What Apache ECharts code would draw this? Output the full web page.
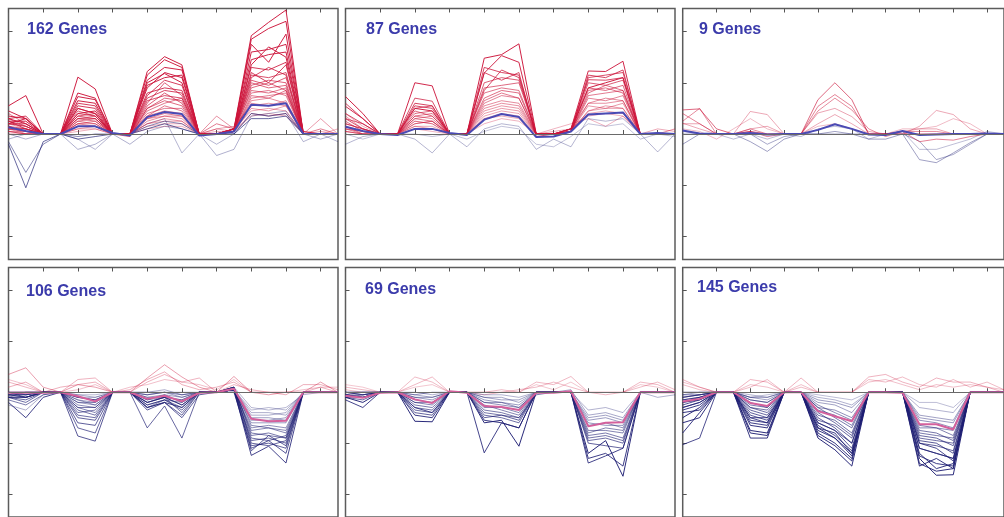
<!DOCTYPE html>
<html>
<head>
<meta charset="utf-8">
<script src="https://cdn.jsdelivr.net/npm/echarts@6/dist/echarts.min.js"></script>
<style>
html, body { margin: 0; padding: 0; background: #fff; }
#main { width: 1004px; height: 517px; }
</style>
</head>
<body>
<div id="main"></div>
<script>
// x: 20 time points, y: log ratio
const timePoints = [0, 1, 2, 3, 4, 5, 6, 7, 8, 9, 10, 11, 12, 13, 14, 15, 16, 17, 18, 19];
const yTicks = [-2, -1, 0, 1, 2];
const panelTitles = ['162 Genes', '87 Genes', '9 Genes', '106 Genes', '69 Genes', '145 Genes'];

// panel 1 - 162 genes
const p1Mean = [0.13, 0.06, 0, 0, 0.15, 0.15, 0.02, -0.03, 0.33, 0.43, 0.39, -0.03, 0, 0.05, 0.57, 0.55, 0.6, 0, 0, 0];
const p1Up = [
  [0.3, 0.2, 0, 0, 0.5, 0.4, 0, 0, 0.9, 1.2, 1.1, 0, 0, 0.1, 1.92, 2.18, 2.42, 0, 0, 0],
  [0.2, 0.3, 0, 0, 0.4, 0.45, 0, 0, 1.22, 1.51, 1.35, 0, 0, 0.05, 1.85, 2.06, 2.2, 0, 0, 0],
  [0.55, 0.75, 0, 0, 1.11, 0.88, 0, 0, 1.15, 1.45, 1.3, 0, 0, 0.05, 1.6, 1.65, 1.75, 0.05, 0, 0],
  [0.35, 0.3, 0, 0, 0.73, 0.67, 0, 0, 1.0, 1.18, 1.0, 0, 0, 0.1, 1.75, 1.4, 1.95, 0, 0, 0],
  [0.45, 0.3, 0, 0, 0.65, 0.6, 0, 0, 1.05, 1.3, 1.25, 0, 0, 0.1, 1.45, 1.55, 1.6, 0, 0, 0],
  [0.25, 0.25, 0, 0, 0.8, 0.7, 0, 0, 0.95, 1.1, 1.15, 0, 0, 0.05, 1.35, 1.7, 1.5, 0, 0, 0],
  [0.2, 0.15, 0, 0, 0.6, 0.55, 0, 0, 0.75, 1.05, 0.95, 0, 0, 0.05, 1.2, 1.0, 1.35, 0, 0, 0],
  [0.3, 0.35, 0, 0, 0.55, 0.5, 0, 0, 0.8, 0.9, 0.85, 0, 0, 0.05, 1.3, 1.25, 1.4, 0, 0, 0],
  [0.25, 0.1, 0, 0, 0.5, 0.4, 0, 0, 0.7, 0.85, 0.8, 0, 0, 0.05, 1.1, 1.3, 1.15, 0, 0, 0],
  [0.2, 0.2, 0, 0, 0.4, 0.35, 0, 0, 0.65, 0.75, 0.7, 0, 0, 0.1, 1.15, 1.1, 1.2, 0, 0, 0],
  [0.1, 0.05, 0, 0, 0.35, 0.3, 0, 0, 0.6, 1.0, 0.75, 0, 0, 0.05, 0.95, 1.05, 1.0, 0, 0, 0],
  [0.15, 0.1, 0, 0, 0.35, 0.4, 0, 0, 0.55, 0.8, 0.6, 0, 0, 0.05, 1.05, 0.95, 1.1, 0, 0, 0],
  [0.15, 0.05, 0, 0, 0.45, 0.35, 0, -0.05, 0.5, 0.7, 0.65, 0, 0, 0.1, 1.0, 0.9, 0.95, 0, 0, 0],
  [0.25, 0.15, 0, 0, 0.3, 0.3, 0, 0, 0.5, 0.65, 0.55, 0, 0, 0.1, 0.9, 1.0, 0.85, 0, 0, 0],
  [0.05, 0, 0, 0, 0.3, 0.25, 0, 0, 0.45, 0.6, 0.7, 0, 0, 0.05, 0.85, 0.8, 0.9, 0, 0, 0],
  [0.4, 0.2, 0, 0, 0.3, 0.35, 0, 0, 0.35, 0.55, 0.45, 0, 0.2, 0.1, 0.8, 0.85, 0.75, 0, 0, 0],
  [0.1, 0.1, 0, 0, 0.25, 0.3, 0, 0, 0.4, 0.5, 0.5, 0, 0, 0.05, 0.75, 0.7, 0.85, 0, 0, 0],
  [0.1, 0.1, 0, 0, 0.25, 0.2, 0, 0, 0.3, 0.4, 0.35, 0, 0, 0.05, 0.7, 0.75, 0.8, 0, 0.1, 0],
  [0.3, 0.15, 0, 0, 0.2, 0.25, 0, 0, 0.35, 0.45, 0.4, 0, 0, 0.05, 0.65, 0.7, 0.6, 0, 0, 0],
  [0.05, 0, 0, 0, 0.2, 0.2, 0, 0, 0.25, 0.35, 0.3, 0, 0.35, 0.1, 0.6, 0.55, 0.65, 0, 0, 0],
  [0.05, 0.05, 0, 0, 0.2, 0.15, 0, 0, 0.3, 0.35, 0.35, 0, 0.1, 0.15, 0.55, 0.6, 0.55, 0, 0, 0],
  [0, 0, 0, 0, 0.15, 0.15, 0, 0, 0.2, 0.3, 0.25, 0, 0, 0.05, 0.5, 0.45, 0.55, 0, 0.3, 0],
  [0.2, 0.1, 0, 0, 0.1, 0.15, 0, 0, 0.2, 0.25, 0.25, 0, 0, 0.1, 0.45, 0.5, 0.45, 0, 0.05, 0],
  [0.15, 0, 0, 0, 0.1, 0.1, 0, 0, 0.15, 0.2, 0.2, 0, 0.1, 0.05, 0.4, 0.35, 0.4, 0, 0, 0.1],
  [0.1, 0, 0, 0, 0.05, 0.1, 0, 0, 0.1, 0.15, 0.15, 0, 0.05, 0.05, 0.35, 0.4, 0.35, 0, 0, 0]
];
const p1Down = [
  [-0.2, -1.05, -0.15, 0, -0.1, -0.05, 0, 0, 0.1, 0.2, 0.1, 0, 0, 0, 0.3, 0.3, 0.35, 0, 0, 0],
  [-0.15, -0.75, -0.2, 0, -0.05, 0, 0, 0, 0.15, 0.25, 0.2, 0, 0, 0, 0.4, 0.35, 0.4, 0, 0, 0],
  [-0.1, 0, 0, 0, -0.1, -0.3, 0, 0, 0.2, 0.3, -0.37, 0, -0.2, 0, 0.4, 0.35, 0.4, -0.15, 0, -0.15],
  [0, -0.1, 0, 0, -0.3, -0.2, 0, -0.2, 0.05, 0.15, 0.1, 0, -0.42, -0.3, 0.35, 0.4, 0.45, 0, -0.1, 0]
];

// panel 2 - 87 genes
const p2Mean = [0.14, 0.06, 0, -0.02, 0.1, 0.1, 0.02, -0.02, 0.28, 0.39, 0.33, -0.06, -0.05, 0.05, 0.38, 0.4, 0.42, 0, 0.02, 0];
const p2Up = [
  [0.73, 0.4, 0, 0, 0.5, 0.45, 0, 0, 1.48, 1.55, 1.76, 0, 0, 0.05, 0.9, 1.0, 1.1, 0, 0, 0],
  [0.54, 0.3, 0, 0, 1.0, 0.94, 0, 0, 1.19, 1.53, 1.4, 0, 0, 0.1, 1.23, 1.22, 1.42, 0, 0, 0],
  [0.6, 0.3, 0, 0, 0.6, 0.55, 0, 0, 1.3, 1.2, 1.15, 0, 0, 0.05, 1.15, 1.1, 1.25, 0, 0, 0],
  [0.3, 0.1, 0, 0, 0.7, 0.64, 0, 0, 1.2, 1.05, 1.2, -0.05, 0, 0.05, 1.1, 1.15, 1.2, 0, 0, 0],
  [0.4, 0.2, 0, 0, 0.55, 0.5, 0, 0, 0.85, 1.25, 1.1, 0, 0, 0.1, 1.06, 1.05, 1.1, 0, 0, 0],
  [0.3, 0.2, 0, 0, 0.5, 0.55, 0, 0, 1.0, 1.1, 1.05, 0, 0, 0.05, 1.0, 0.95, 1.05, 0, 0, 0],
  [0.2, 0.1, 0, 0, 0.4, 0.45, 0, 0, 0.9, 0.95, 1.0, 0, 0, 0.1, 0.9, 0.85, 0.95, 0, 0, 0],
  [0.2, 0.1, 0, 0, 0.35, 0.4, 0, 0, 0.8, 0.9, 0.85, 0, 0, 0.1, 0.85, 0.9, 0.8, 0, 0, 0],
  [0.25, 0.05, 0, 0, 0.45, 0.35, 0, 0, 0.7, 0.85, 0.8, 0, 0, 0.05, 0.8, 0.95, 0.85, 0, 0, 0],
  [0.15, 0.05, 0, 0, 0.3, 0.25, 0, 0, 0.65, 0.8, 0.7, 0, 0, 0.05, 0.75, 0.8, 0.85, 0, 0, 0],
  [0.15, 0, 0, 0, 0.35, 0.3, 0, 0, 0.6, 0.75, 0.7, 0, 0, 0.05, 0.7, 0.65, 0.75, 0, 0, 0],
  [0.1, 0, 0, 0, 0.3, 0.35, 0, 0, 0.55, 0.65, 0.6, 0, 0, 0.1, 0.6, 0.7, 0.65, 0, 0, 0.1],
  [0.1, 0.05, 0, 0, 0.2, 0.25, 0, 0, 0.5, 0.6, 0.55, 0, 0, 0.05, 0.6, 0.6, 0.65, 0, 0, 0],
  [0.05, 0, 0, 0, 0.25, 0.2, 0, 0, 0.45, 0.55, 0.5, 0, 0, 0.05, 0.55, 0.5, 0.6, 0, 0, 0],
  [0.35, 0.1, 0, 0, 0.2, 0.25, 0, 0, 0.4, 0.5, 0.45, 0, 0, 0.05, 0.45, 0.55, 0.5, 0, 0, 0],
  [0.05, 0, 0, 0, 0.15, 0.1, 0, 0, 0.35, 0.45, 0.4, 0, 0, 0.05, 0.45, 0.5, 0.5, 0, 0, 0],
  [0.1, 0.05, 0, 0, 0.15, 0.15, 0, 0, 0.3, 0.4, 0.35, 0, 0.05, 0.1, 0.4, 0.45, 0.4, 0, 0.1, 0.05],
  [0.4, 0.15, 0, 0, 0.25, 0.2, 0, 0, 0.3, 0.35, 0.3, 0, 0, 0.1, 0.35, 0.4, 0.35, 0, 0, 0],
  [0.05, 0, 0, 0, 0.1, 0.05, 0, 0, 0.2, 0.3, 0.25, 0, 0.1, 0.2, 0.3, 0.15, 0.35, 0, 0, 0]
];
const p2Down = [
  [-0.2, -0.05, 0, 0, -0.1, -0.37, 0, -0.25, 0.1, 0.2, 0.15, -0.3, -0.1, -0.25, 0.3, 0.25, 0.3, 0, -0.35, 0],
  [0, -0.1, 0, 0, 0, -0.05, 0, -0.1, 0.05, 0.15, 0.1, -0.2, -0.25, -0.05, 0.2, 0.15, 0.2, -0.1, 0, -0.05]
];

// panel 3 - 9 genes
const p3Mean = [0.07, 0.01, 0, 0, 0.02, -0.01, 0, 0, 0.08, 0.19, 0.1, -0.01, -0.02, 0.06, -0.02, -0.01, 0, 0, 0.01, 0];
const p3Up = [
  [0.47, 0.49, 0.1, 0, 0.05, 0, 0, 0, 0.67, 1.0, 0.67, 0, 0, 0, 0, 0, 0, 0, 0, 0],
  [0.4, 0.2, 0, 0, 0.05, -0.05, 0, 0, 0.54, 0.77, 0.54, 0, 0, 0.05, -0.15, -0.1, -0.12, -0.05, 0, 0],
  [0.25, 0.5, 0, 0, 0.1, 0, 0, 0, 0.45, 0.7, 0.47, 0.1, -0.05, 0.05, 0.05, 0.05, 0, 0, 0, 0],
  [0.2, 0.2, 0, 0, 0.1, 0.15, 0, 0, 0.41, 0.5, 0.34, 0.05, 0, 0.05, 0.1, 0.1, 0, 0, 0, 0],
  [0.21, 0.1, 0, 0, 0.44, 0.38, 0, 0, 0.2, 0.38, 0.2, 0, 0, 0, 0.15, 0.46, 0.38, 0.1, 0, 0],
  [0.1, 0.05, -0.1, 0.1, 0.3, 0.1, 0, 0, 0.15, 0.2, 0.1, 0, 0, 0.1, 0.1, 0.15, 0.3, 0.2, 0, 0]
];
const p3Down = [
  [-0.2, 0, 0, 0, -0.15, -0.34, -0.1, 0, 0, 0.05, 0, -0.1, -0.1, 0, -0.5, -0.56, -0.37, -0.17, 0, 0],
  [0, 0, 0, 0, 0, -0.2, -0.05, 0, 0, 0, 0, 0, 0, 0, -0.14, -0.5, -0.4, -0.2, 0, 0],
  [0.05, 0, 0, -0.1, 0, -0.1, 0, -0.05, 0.1, 0.15, 0.1, -0.1, 0, 0.05, -0.3, -0.3, -0.2, -0.1, 0.05, 0]
];

// panel 4 - 106 genes
const p4Mean = [-0.01, -0.01, -0.01, 0, -0.08, -0.18, 0, 0, -0.13, -0.07, -0.18, -0.01, 0, 0.07, -0.52, -0.57, -0.56, 0, 0, 0];
const p4Up = [
  [0.35, 0.48, 0.1, 0, 0.15, 0.1, 0, 0, 0.28, 0.54, 0.3, 0.1, 0, 0.31, 0, -0.05, 0, 0, 0.2, 0],
  [0.2, 0.1, 0, 0, 0.25, 0.28, 0, 0, 0.2, 0.35, 0.2, 0.28, 0, 0.15, 0.05, 0, 0, 0, 0.1, 0],
  [0.1, 0.2, 0, 0.1, 0.15, 0.2, 0, 0.05, 0.25, 0.4, 0.15, 0.05, 0.1, 0.2, 0, 0, -0.05, 0.15, 0.15, 0.05],
  [0.25, 0.15, 0, 0, 0.05, 0.15, 0, 0.1, 0.15, 0.25, 0.2, 0.15, 0.05, 0.25, 0, 0, 0, 0.05, 0.1, 0.1]
];
const p4Down = [
  [-0.2, -0.5, -0.1, 0, -0.1, -0.15, 0, 0, -0.3, -0.2, -0.3, 0, 0, 0.05, -1.24, -1.06, -1.39, 0, 0, 0],
  [-0.1, -0.1, 0, 0, -0.86, -0.96, 0, 0, -0.2, -0.1, -0.25, 0, 0, 0, -1.1, -0.95, -1.2, 0, 0, 0],
  [-0.05, -0.05, 0, 0, -0.7, -0.8, 0, 0, -0.7, -0.27, -0.9, 0, 0, 0.1, -1.0, -1.05, -0.95, 0, 0, 0],
  [0, -0.1, 0, 0, -0.6, -0.65, 0, 0, -0.35, -0.2, -0.5, -0.05, 0, 0.05, -1.15, -0.85, -1.05, 0, 0, 0],
  [-0.1, -0.15, 0, 0, -0.5, -0.55, 0, 0, -0.3, -0.2, -0.45, 0, 0, 0.05, -1.05, -1.0, -1.1, 0, 0, 0],
  [-0.1, -0.2, 0, 0, -0.45, -0.5, 0, 0, -0.25, -0.15, -0.35, 0, 0, 0.05, -0.95, -0.9, -1.0, 0, 0, 0],
  [-0.05, -0.1, 0, 0, -0.35, -0.45, 0, 0, -0.25, -0.15, -0.3, 0, 0, 0.05, -0.9, -0.95, -0.85, 0, 0, 0],
  [-0.15, -0.25, -0.05, 0, -0.4, -0.35, 0, 0, -0.2, -0.1, -0.4, 0, 0, 0.1, -0.85, -0.8, -0.9, 0, 0, 0],
  [0, -0.05, 0, 0, -0.3, -0.3, 0, 0, -0.2, -0.1, -0.25, 0, 0, 0.1, -0.8, -0.85, -0.9, 0, 0, 0],
  [0, 0, 0, 0, -0.3, -0.4, 0, 0, -0.15, -0.05, -0.2, 0, 0, 0.05, -0.75, -0.7, -0.8, 0, 0, 0],
  [-0.05, -0.1, 0, 0, -0.25, -0.3, 0, 0, -0.3, -0.15, -0.2, 0, 0, 0.1, -0.65, -0.7, -0.75, 0, 0, 0],
  [-0.1, -0.1, 0, 0, -0.2, -0.2, 0, 0, -0.15, -0.1, -0.15, 0, 0, 0.05, -0.7, -0.65, -0.7, 0, 0, 0],
  [0, -0.05, 0, 0, -0.2, -0.25, 0, 0, -0.1, -0.1, -0.15, 0, 0, 0.05, -0.6, -0.6, -0.6, 0, 0, 0],
  [-0.05, 0, 0, 0, -0.15, -0.25, 0, 0, -0.1, -0.05, -0.1, 0, 0, 0.05, -0.55, -0.55, -0.5, 0, 0, 0],
  [-0.1, 0, 0, 0, -0.15, -0.2, 0, 0, -0.05, 0, -0.1, 0, 0, 0, -0.5, -0.5, -0.55, 0, 0, 0],
  [-0.25, -0.35, -0.05, 0, -0.1, -0.1, 0, 0, -0.05, 0, -0.05, 0, 0, 0.05, -0.45, -0.45, -0.4, 0, 0, 0],
  [0, 0, 0, 0, -0.1, -0.15, 0, 0, 0, 0.05, -0.05, 0, 0, 0.05, -0.4, -0.4, -0.45, 0, 0, 0],
  [0, 0, 0, 0, -0.05, -0.05, 0, 0, 0, 0, 0, 0, 0, 0.05, -0.35, -0.3, -0.35, 0, 0, 0],
  [-0.05, -0.05, 0, 0, -0.05, -0.1, 0, 0, -0.05, 0, -0.05, 0, 0, 0.1, -0.3, -0.35, -0.3, -0.05, 0, 0]
];

// panel 5 - 69 genes
const p5Mean = [-0.07, -0.11, -0.01, 0, -0.14, -0.21, 0.02, -0.01, -0.27, -0.29, -0.35, -0.01, -0.01, 0.02, -0.67, -0.6, -0.59, 0, 0, 0];
const p5Up = [
  [0.1, 0.05, 0, 0, 0.15, 0.3, 0, 0, 0, 0.05, 0, 0.2, 0.15, 0.31, 0, -0.05, 0, 0.2, 0.15, 0],
  [0.05, 0, 0, 0, 0.3, 0.2, 0, 0, -0.05, 0, 0.05, 0.1, 0.2, 0.1, 0, 0, 0, 0.1, 0.2, 0.05],
  [0.15, 0.1, 0, 0, 0.1, 0.15, 0, 0, 0, 0, 0, 0.15, 0.05, 0.2, 0, 0, 0, 0.15, 0.1, 0]
];
const p5Down = [
  [-0.15, -0.3, 0, 0, -0.3, -0.4, 0, 0, -1.19, -0.6, -0.7, 0, 0, 0, -1.39, -1.25, -1.1, 0, 0, 0],
  [-0.1, -0.2, 0, 0, -0.57, -0.58, 0, 0, -0.6, -0.55, -1.06, 0, 0, 0, -1.2, -0.95, -1.65, 0, 0, 0],
  [-0.05, -0.1, 0, 0, -0.45, -0.5, 0, 0, -0.55, -0.6, -0.7, 0, 0, 0, -1.3, -1.2, -1.45, 0, 0, 0],
  [-0.05, -0.1, 0, 0, -0.4, -0.45, 0, 0, -0.5, -0.45, -0.55, 0, 0, 0, -1.0, -1.05, -1.1, 0, 0, 0],
  [-0.1, -0.15, 0, 0, -0.35, -0.4, 0, 0, -0.45, -0.5, -0.6, 0, 0, 0, -0.95, -0.9, -1.0, 0, 0, 0],
  [-0.1, -0.05, 0, 0, -0.3, -0.35, 0, 0, -0.4, -0.45, -0.5, 0, 0, 0, -0.9, -0.85, -0.95, 0, 0, 0],
  [0, -0.05, 0, 0, -0.25, -0.3, 0, 0, -0.35, -0.4, -0.5, -0.05, 0, 0, -0.85, -0.8, -0.9, 0, 0, 0],
  [0, -0.05, 0, 0, -0.2, -0.2, 0, 0, -0.25, -0.35, -0.45, 0, 0, 0, -0.8, -0.7, -0.75, 0, 0, 0],
  [-0.05, -0.1, 0, 0, -0.2, -0.25, 0, 0, -0.3, -0.3, -0.4, 0, 0, 0, -0.75, -0.75, -0.8, 0, 0, 0],
  [-0.1, -0.1, 0, 0, -0.15, -0.2, 0, 0, -0.2, -0.25, -0.3, 0, 0, 0, -0.65, -0.6, -0.7, 0, 0, 0],
  [-0.05, 0, 0, 0, -0.1, -0.1, 0, 0, -0.2, -0.2, -0.3, 0, 0, 0, -0.6, -0.65, -0.65, 0, 0, 0],
  [0, 0, 0, 0, -0.1, -0.15, 0, 0, -0.15, -0.2, -0.25, 0, 0, 0, -0.55, -0.5, -0.6, 0, 0, 0],
  [0, 0, 0, 0, -0.05, 0, 0, 0, -0.1, -0.15, -0.15, 0, 0, 0, -0.5, -0.45, -0.55, 0, 0, 0],
  [-0.05, -0.05, 0, 0, -0.05, -0.1, 0, 0, -0.1, -0.1, -0.2, 0, 0, 0.05, -0.45, -0.4, -0.5, 0, 0, 0],
  [0, 0, 0, 0, 0, -0.05, 0, 0, -0.05, -0.05, -0.1, 0, 0, 0, -0.35, -0.3, -0.4, 0, -0.1, -0.05]
];

// panel 6 - 145 genes
const p6Mean = [-0.18, -0.13, 0, 0, -0.21, -0.27, 0, 0, -0.37, -0.47, -0.57, 0, 0, -0.01, -0.63, -0.63, -0.73, 0, 0, 0];
const p6Up = [
  [0.25, 0.1, 0, 0, 0.25, 0.2, 0, 0.28, 0, 0, 0, 0.3, 0.35, 0.2, 0.1, 0.28, 0.2, 0.2, 0.1, 0],
  [0.15, 0.05, 0, 0, 0.1, 0.25, 0, 0.1, 0, 0, 0, 0.25, 0.2, 0.3, 0.15, 0.1, 0.25, 0.1, 0.2, 0.05],
  [0.2, 0.1, 0, 0, 0.15, 0.1, 0, 0.15, 0, 0, 0, 0.2, 0.25, 0.15, 0.05, 0.15, 0.1, 0.15, 0.1, 0.05]
];
const p6Down = [
  [-1.03, -0.9, 0, 0, -0.5, -0.6, 0, 0, -0.6, -0.75, -1.0, 0, 0, 0, -1.1, -1.2, -1.3, 0, 0, 0],
  [-0.8, -0.4, 0, 0, -0.9, -0.9, 0, 0, -0.7, -0.9, -1.2, 0, 0, 0, -1.45, -1.3, -1.5, 0, 0, 0],
  [-0.6, -0.5, 0, 0, -0.8, -0.85, 0, 0, -0.85, -1.05, -1.35, 0, 0, 0, -1.4, -1.55, -1.5, 0, 0, 0],
  [-0.5, -0.3, 0, 0, -0.75, -0.8, 0, 0, -0.9, -1.13, -1.45, 0, 0, 0, -1.3, -1.63, -1.62, 0, 0, 0],
  [-0.4, -0.35, 0, 0, -0.65, -0.7, 0, 0, -0.8, -1.0, -1.3, 0, 0, 0, -1.2, -1.5, -1.4, 0, 0, 0],
  [-0.35, -0.25, 0, 0, -0.6, -0.65, 0, 0, -0.75, -0.9, -1.25, 0, 0, 0, -1.25, -1.4, -1.45, 0, 0, 0],
  [-0.3, -0.2, 0, 0, -0.55, -0.6, 0, 0, -0.7, -0.8, -1.2, 0, 0, 0, -1.0, -1.1, -1.35, 0, 0, 0],
  [-0.3, -0.2, 0, 0, -0.5, -0.5, 0, 0, -0.65, -0.85, -1.15, 0, 0, 0, -1.1, -1.2, -1.3, 0, 0, 0],
  [-0.25, -0.15, 0, 0, -0.45, -0.55, 0, 0, -0.6, -0.75, -1.1, 0, 0, 0, -0.95, -1.0, -1.2, 0, 0, 0],
  [-0.2, -0.15, 0, 0, -0.4, -0.5, 0, 0, -0.5, -0.7, -1.0, 0, 0, 0, -1.0, -1.05, -1.15, 0, 0, 0],
  [-0.2, -0.1, 0, 0, -0.35, -0.45, 0, 0, -0.55, -0.65, -0.9, 0, 0, 0, -0.85, -0.9, -1.05, 0, 0, 0],
  [-0.15, -0.1, 0, 0, -0.3, -0.4, 0, 0, -0.4, -0.6, -0.85, 0, 0, 0, -0.9, -0.95, -1.0, 0, 0, 0],
  [-0.15, -0.1, 0, 0, -0.3, -0.35, 0, 0, -0.45, -0.55, -0.8, 0, 0, 0, -0.75, -0.8, -0.95, 0, 0, 0],
  [-0.1, -0.05, 0, 0, -0.25, -0.3, 0, 0, -0.3, -0.5, -0.7, 0, 0, 0, -0.8, -0.85, -0.9, 0, 0, 0],
  [-0.1, -0.05, 0, 0, -0.2, -0.3, 0, 0, -0.35, -0.45, -0.65, 0, 0, 0, -0.65, -0.7, -0.85, 0, 0, 0],
  [-0.05, -0.05, 0, 0, -0.15, -0.2, 0, 0, -0.25, -0.4, -0.55, 0, 0, 0, -0.7, -0.7, -0.75, 0, 0, 0],
  [-0.1, -0.05, 0, 0, -0.15, -0.2, 0, 0, -0.3, -0.35, -0.5, 0, 0, 0, -0.55, -0.6, -0.7, 0, 0, 0],
  [0, 0, 0, 0, -0.1, -0.1, 0, 0, -0.15, -0.2, -0.3, 0, 0, 0, -0.5, -0.55, -0.6, 0, 0, 0],
  [-0.05, 0, 0, 0, -0.1, -0.15, 0, 0, -0.2, -0.25, -0.4, 0, 0, 0, -0.45, -0.5, -0.55, 0, 0, 0],
  [0, 0, 0, 0, -0.05, -0.1, 0, 0, -0.1, -0.15, -0.25, 0, 0, 0, -0.3, -0.35, -0.4, 0, 0, 0],
  [-0.2, -0.15, 0, 0, -0.1, -0.05, 0, 0, -0.05, -0.1, -0.15, 0, 0, 0, -0.2, -0.2, -0.3, 0, 0, 0]
];

const panels = [
  { title: panelTitles[0], mean: p1Mean, up: p1Up, down: p1Down, meanColor: '#4a4ab4', left: 8.5, top: 8.5, height: 251, tx: 22, ty: 17 },
  { title: panelTitles[1], mean: p2Mean, up: p2Up, down: p2Down, meanColor: '#4a4ab4', left: 345.5, top: 8.5, height: 251, tx: 361, ty: 17 },
  { title: panelTitles[2], mean: p3Mean, up: p3Up, down: p3Down, meanColor: '#4a4ab4', left: 682.7, top: 8.5, height: 251, tx: 694, ty: 17 },
  { title: panelTitles[3], mean: p4Mean, up: p4Up, down: p4Down, meanColor: '#d4609c', left: 8.5, top: 267.5, height: 253, tx: 21, ty: 279 },
  { title: panelTitles[4], mean: p5Mean, up: p5Up, down: p5Down, meanColor: '#d4609c', left: 345.5, top: 267.5, height: 253, tx: 360, ty: 277 },
  { title: panelTitles[5], mean: p6Mean, up: p6Up, down: p6Down, meanColor: '#d4609c', left: 682.7, top: 267.5, height: 253, tx: 692, ty: 275 }
];

const PANEL_W = 329.5;
const Y_MIN = -2.45, Y_MAX = 2.45;

// line colour: red for induced, blue for repressed, stronger with size of change
function geneColor(vals, up) {
  const ext = up ? Math.max(...vals) : -Math.min(...vals);
  const a = Math.min(0.95, 0.14 + 0.5 * ext).toFixed(2);
  return up ? 'rgba(204,20,58,' + a + ')' : 'rgba(30,30,115,' + a + ')';
}

const grid = [], xAxis = [], yAxis = [], series = [], title = [];

panels.forEach(function (p, i) {
  grid.push({
    left: p.left, top: p.top, width: PANEL_W, height: p.height,
    show: true, borderColor: '#5c5c5c', borderWidth: 1.5, backgroundColor: 'transparent'
  });
  ['bottom', 'top'].forEach(function (pos) {
    xAxis.push({
      type: 'category', gridIndex: i, position: pos, data: timePoints, boundaryGap: false,
      axisLine: { show: false },
      axisTick: { show: true, inside: true, length: 4, lineStyle: { color: '#555', width: 1 } },
      axisLabel: { show: false }, splitLine: { show: false }
    });
  });
  yAxis.push({
    type: 'value', gridIndex: i, min: Y_MIN, max: Y_MAX,
    axisLine: { show: false },
    axisTick: { show: true, inside: true, length: 4, customValues: yTicks, lineStyle: { color: '#555', width: 1 } },
    axisLabel: { show: false }, splitLine: { show: false }
  });

  // faint lines first so the strong ones sit on top
  const lines = p.up.map(function (v) { return { v: v, up: true, m: Math.max(...v) }; })
    .concat(p.down.map(function (v) { return { v: v, up: false, m: -Math.min(...v) }; }))
    .sort(function (a, b) { return a.m - b.m; });
  lines.forEach(function (l) {
    series.push({
      type: 'line', xAxisIndex: i * 2, yAxisIndex: i, silent: true,
      showSymbol: false, symbol: 'none', animation: false,
      data: l.v,
      lineStyle: { width: 1, color: geneColor(l.v, l.up) },
      z: 2
    });
  });
  series.push({
    type: 'line', xAxisIndex: i * 2, yAxisIndex: i, silent: true,
    showSymbol: false, symbol: 'none', animation: false,
    data: p.mean,
    lineStyle: { width: 2, color: p.meanColor },
    z: 4,
    markLine: {
      silent: true, symbol: 'none', animation: false,
      label: { show: false },
      lineStyle: { color: '#6a6a6a', width: 1, type: 'solid' },
      data: [{ yAxis: 0 }]
    }
  });

  title.push({
    text: p.title, left: p.tx, top: p.ty,
    textStyle: { fontFamily: 'Liberation Sans, Arial, sans-serif', fontSize: 16, fontWeight: 'bold', color: '#3b3bab' }
  });
});

const chart = echarts.init(document.getElementById('main'), null, { renderer: 'canvas' });
chart.setOption({
  backgroundColor: '#fff',
  animation: false,
  title: title,
  grid: grid,
  xAxis: xAxis,
  yAxis: yAxis,
  series: series
});
</script>
</body>
</html>
